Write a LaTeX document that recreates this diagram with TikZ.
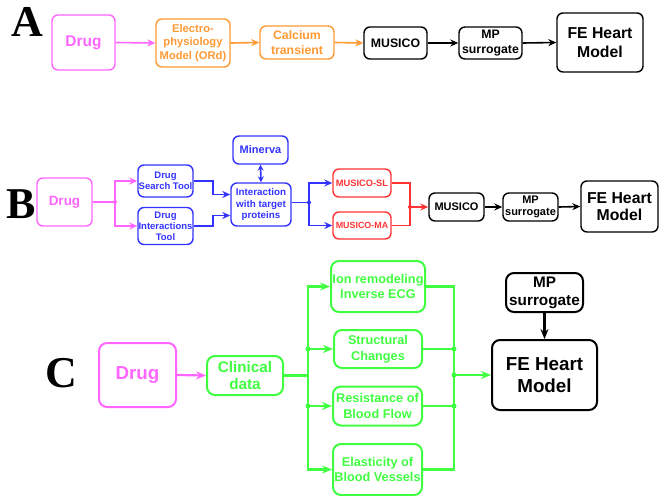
\documentclass[tikz,border=0pt]{standalone}
\usepackage{fontspec}
\setmainfont{Liberation Sans}
\newfontfamily\labfont{Liberation Serif}
\usetikzlibrary{arrows.meta}
\definecolor{cmag}{RGB}{255,102,255}
\definecolor{corange}{RGB}{255,153,51}
\definecolor{cblue}{RGB}{51,51,255}
\definecolor{cred}{RGB}{255,51,51}
\definecolor{cgreen}{RGB}{64,255,64}
\newcommand\fsz[2]{\fontsize{#1}{#2}\selectfont}
\tikzset{
  box/.style={draw, rounded corners=6pt, line width=1.4pt, align=center, inner sep=0pt},
  boxc/.style={box, line width=2pt, rounded corners=8pt},
  arr/.style={-{Stealth[length=8pt,width=7pt]}, line width=1.6pt},
  arrc/.style={-{Stealth[length=10pt,width=8pt]}, line width=2.2pt},
  ln/.style={line width=1.6pt},
  lnc/.style={line width=2.2pt},
  jdot/.style={circle, fill, inner sep=0pt, minimum size=5pt},
  panel/.style={font=\labfont\bfseries\fsz{44}{44}, inner sep=0pt}
}
\begin{document}
\begin{tikzpicture}[x=1pt,y=-1pt]
\useasboundingbox (0,0) rectangle (665,496);
% ---------------- Panel A
\node[panel] (lA) at (27,22) {A};
\node[box, cmag, minimum width=63pt, minimum height=55pt, font=\bfseries\fsz{15.5}{17}] (aDrug) at (83.5,42.5) {Drug};
\node[box, corange, minimum width=74pt, minimum height=48pt, font=\bfseries\fsz{11.2}{13.8}] (aElec) at (193,43) {Electro-\\physiology\\Model (ORd)};
\node[box, corange, minimum width=74pt, minimum height=33pt, font=\bfseries\fsz{12.3}{15.5}] (aCal) at (297,42.5) {Calcium\\transient};
\node[box, black, minimum width=63pt, minimum height=32pt, font=\bfseries\fsz{12.3}{14}] (aMus) at (395.5,43) {MUSICO};
\node[box, black, minimum width=63pt, minimum height=32pt, font=\bfseries\fsz{12.3}{15.5}] (aMP) at (490.5,43) {MP\\surrogate};
\node[box, black, minimum width=86pt, minimum height=59pt, font=\bfseries\fsz{15.8}{19}] (aFE) at (600,42.5) {FE Heart\\Model};
\draw[arr, cmag] (aDrug.east) -- (aElec.west);
\draw[arr, corange] (aElec.east) -- (aCal.west);
\draw[arr, corange] (aCal.east) -- (aMus.west);
\draw[arr, black] (aMus.east) -- (aMP.west);
\draw[arr, black] (aMP.east) -- (aFE.west);
% ---------------- Panel B
\node[panel] (lB) at (21,204) {B};
\node[box, cmag, minimum width=55pt, minimum height=48pt, font=\bfseries\fsz{13.5}{15}] (bDrug) at (64.5,202) {Drug};
\node[box, cblue, minimum width=55pt, minimum height=32pt, font=\bfseries\fsz{9.5}{11}] (bSearch) at (165.5,181) {Drug\\Search Tool};
\node[box, cblue, minimum width=55pt, minimum height=37pt, font=\bfseries\fsz{9.5}{11}] (bInter) at (165.5,226) {Drug\\Interactions\\Tool};
\node[box, cblue, minimum width=60pt, minimum height=43pt, font=\bfseries\fsz{9.8}{11.7}] (bInt) at (261,204.5) {Interaction\\with target\\proteins};
\node[box, cblue, minimum width=55pt, minimum height=28pt, font=\bfseries\fsz{11}{12}] (bMin) at (260.5,150) {Minerva};
\node[box, cred, minimum width=58pt, minimum height=28pt, font=\bfseries\fsz{9.3}{11}] (bSL) at (362,183) {MUSICO-SL};
\node[box, cred, minimum width=58pt, minimum height=27pt, font=\bfseries\fsz{8.9}{11}] (bMA) at (362,225.5) {MUSICO-MA};
\node[box, black, minimum width=55pt, minimum height=28pt, font=\bfseries\fsz{11}{12}] (bMus) at (456.5,207) {MUSICO};
\node[box, black, minimum width=55pt, minimum height=28pt, font=\bfseries\fsz{11}{12}] (bMP) at (530.5,207) {MP\\surrogate};
\node[box, black, minimum width=77pt, minimum height=51pt, font=\bfseries\fsz{15.8}{16.5}] (bFE) at (619.5,206.5) {FE Heart\\Model};
\coordinate (bj1) at (115,202);
\draw[ln, cmag] (bDrug.east) -- (bj1);
\draw[arr, cmag] (bj1) |- (bSearch.west);
\draw[arr, cmag] (bj1) |- (bInter.west);
\node[jdot, cmag, minimum size=4pt] (bd1) at (bj1) {};
\draw[arr, cblue] (bSearch.east) -- ++(19,0) |- ([yshift=10pt]bInt.west);
\draw[arr, cblue] (bInter.east) -- ++(19,0) |- ([yshift=-11pt]bInt.west);
\draw[{Stealth[length=6pt,width=6pt]}-{Stealth[length=6pt,width=6pt]}, ln, cblue] (bMin.south) -- (bInt.north);
\coordinate (bj2) at (309,202.5);
\draw[ln, cblue] ([yshift=2pt]bInt.east) -- (bj2);
\draw[arr, cblue] (bj2) |- (bSL.west);
\draw[arr, cblue] (bj2) |- (bMA.west);
\node[jdot, cblue, minimum size=4pt] (bd2) at (bj2) {};
\coordinate (bj3) at (410,207);
\draw[ln, cred] (bSL.east) -| (bj3);
\draw[ln, cred] (bMA.east) -| (bj3);
\draw[arr, cred] (bj3) -- (bMus.west);
\node[jdot, cred, minimum size=4pt] (bd3) at (bj3) {};
\draw[arr, black] (bMus.east) -- (bMP.west);
\draw[arr, black] (bMP.east) -- (bFE.west);
% ---------------- Panel C
\node[panel] (lC) at (61.5,373) {C};
\node[boxc, cmag, minimum width=77pt, minimum height=64pt, font=\bfseries\fsz{18.8}{20}] (cDrug) at (137.5,375) {Drug};
\node[boxc, cgreen, minimum width=76pt, minimum height=39pt, font=\bfseries\fsz{15.3}{17.7}] (cClin) at (245,375.5) {Clinical\\data};
\node[boxc, cgreen, minimum width=94pt, minimum height=51pt, font=\bfseries\fsz{12.7}{14.7}] (cIon) at (378,286.5) {Ion remodeling\\Inverse ECG};
\node[boxc, cgreen, minimum width=88pt, minimum height=38pt, font=\bfseries\fsz{12.7}{15.5}] (cStr) at (378,349) {Structural\\Changes};
\node[boxc, cgreen, minimum width=89pt, minimum height=39pt, font=\bfseries\fsz{12.7}{15.5}] (cRes) at (377.5,406) {Resistance of\\Blood Flow};
\node[boxc, cgreen, minimum width=89pt, minimum height=51pt, font=\bfseries\fsz{12.7}{15.5}] (cEla) at (377.5,469.5) {Elasticity of\\Blood Vessels};
\node[boxc, black, minimum width=105pt, minimum height=70pt, font=\bfseries\fsz{18.8}{22}] (cFE) at (544.5,375) {FE Heart\\Model};
\node[boxc, black, minimum width=77pt, minimum height=39pt, font=\bfseries\fsz{15.3}{18}] (cMP) at (544.5,292.5) {MP\\surrogate};
\draw[arrc, cmag] (cDrug.east) -- (cClin.west);
\coordinate (cj1) at (308,375.5);
\draw[lnc, cgreen] (cClin.east) -- (cj1);
\draw[arrc, cgreen] (cj1) |- (cIon.west);
\draw[arrc, cgreen] (cj1) |- (cStr.west);
\draw[arrc, cgreen] (cj1) |- (cRes.west);
\draw[arrc, cgreen] (cj1) |- (cEla.west);
\node[jdot, cgreen] (cd1) at (cj1 |- cStr.west) {};
\node[jdot, cgreen] (cd2) at (cj1 |- cRes.west) {};
\coordinate (cj2) at (454,375);
\draw[lnc, cgreen] (cIon.east) -| (cj2);
\draw[lnc, cgreen] (cStr.east) -| (cj2);
\draw[lnc, cgreen] (cRes.east) -| (cj2);
\draw[lnc, cgreen] (cEla.east) -| (cj2);
\node[jdot, cgreen] (cd3) at (cj2 |- cStr.east) {};
\node[jdot, cgreen] (cd4) at (cj2) {};
\node[jdot, cgreen] (cd5) at (cj2 |- cRes.east) {};
\draw[arrc, cgreen] (cj2) -- (cFE.west);
\draw[arrc, black] (cMP.south) -- (cFE.north);
\end{tikzpicture}
\end{document}
